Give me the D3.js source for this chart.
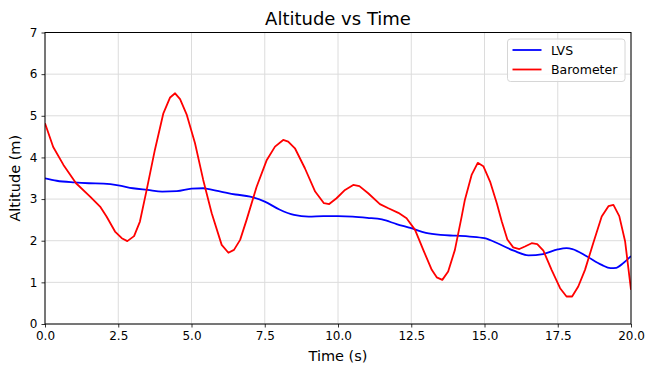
<!DOCTYPE html>
<html>
<head>
<meta charset="utf-8">
<script src="https://cdn.jsdelivr.net/npm/d3@7"></script>
<style>
    body { margin: 0; background: #fff; }
    svg text { font-family: "DejaVu Sans", sans-serif; fill: #000; }
</style>
</head>
<body>
<svg id="chart" width="645" height="366"></svg>
<script>
// LVS estimate (smooth)
const lvsTime = [0, 0.4, 1.0, 1.5, 2.0, 2.5, 3.0, 3.5, 4.0, 4.5, 5.0, 5.4, 5.5, 6.0, 6.5, 7.0, 7.5, 8.0, 8.5, 9.0,
    9.5, 10.0, 10.5, 11.0, 11.5, 12.0, 12.5, 13.0, 13.5, 14.0, 14.5, 15.0, 15.5, 16.0, 16.5, 17.0, 17.5, 17.8,
    18.0, 18.5, 19.0, 19.3, 19.5, 19.75, 20.0];
const lvsAlt = [3.50, 3.44, 3.40, 3.38, 3.37, 3.33, 3.26, 3.22, 3.18, 3.19, 3.25, 3.26, 3.25, 3.18, 3.11, 3.06, 2.94, 2.75, 2.62, 2.58,
    2.59, 2.59, 2.58, 2.55, 2.51, 2.40, 2.30, 2.19, 2.14, 2.12, 2.10, 2.06, 1.92, 1.76, 1.65, 1.68, 1.79, 1.82,
    1.80, 1.62, 1.42, 1.34, 1.35, 1.47, 1.63];

// barometer readings
const baroTime = [0.00, 0.28, 0.63, 1.06, 1.54, 1.88, 2.10, 2.39, 2.62, 2.81, 3.04, 3.24, 3.47, 3.75, 4.04, 4.27, 4.44, 4.61,
    4.84, 5.12, 5.40, 5.69, 6.03, 6.26, 6.45, 6.66, 6.88, 7.22, 7.57, 7.85, 8.13, 8.30, 8.53, 8.87, 9.22, 9.52, 9.70,
    9.95, 10.24, 10.52, 10.73, 11.03, 11.43, 11.72, 12.06, 12.34, 12.63, 12.91, 13.20, 13.37, 13.56, 13.76, 13.99,
    14.22, 14.33, 14.56, 14.77, 14.96, 15.19, 15.42, 15.59, 15.78, 15.98, 16.19, 16.38, 16.61, 16.80, 17.01, 17.29,
    17.58, 17.80, 17.99, 18.20, 18.43, 18.71, 19.00, 19.23, 19.40, 19.60, 19.80, 20.00];
const baroAlt = [4.82, 4.25, 3.82, 3.38, 3.06, 2.82, 2.58, 2.22, 2.06, 1.99, 2.11, 2.46, 3.22, 4.18, 5.06, 5.44, 5.54, 5.40,
    5.02, 4.34, 3.46, 2.66, 1.90, 1.71, 1.78, 2.02, 2.50, 3.29, 3.94, 4.26, 4.42, 4.38, 4.22, 3.74, 3.18, 2.90, 2.88,
    3.02, 3.22, 3.34, 3.31, 3.14, 2.88, 2.78, 2.67, 2.54, 2.26, 1.78, 1.30, 1.12, 1.06, 1.26, 1.78,
    2.58, 2.98, 3.58, 3.87, 3.79, 3.42, 2.90, 2.46, 2.03, 1.84, 1.80, 1.86, 1.94, 1.92, 1.76, 1.30,
    0.86, 0.66, 0.66, 0.90, 1.30, 1.94, 2.58, 2.83, 2.86, 2.59, 1.98, 0.82];

const xTicks = [0, 2.5, 5, 7.5, 10, 12.5, 15, 17.5, 20];
const yTicks = [0, 1, 2, 3, 4, 5, 6, 7];

const seriesNames = ["LVS", "Barometer"];
const seriesColors = ["#0000ff", "#ff0000"];

const svg = d3.select("#chart");
const plotLeft = 45, plotRight = 631, plotTop = 32.5, plotBottom = 324;

const xScale = d3.scaleLinear().domain([0, 20]).range([plotLeft, plotRight]);
const yScale = d3.scaleLinear().domain([0, 7]).range([plotBottom, plotTop]);

// grid
svg.append("g").selectAll("line")
    .data(xTicks).enter().append("line")
    .attr("x1", d => xScale(d)).attr("x2", d => xScale(d))
    .attr("y1", plotTop).attr("y2", plotBottom)
    .attr("stroke", "#dcdcdc").attr("stroke-width", 1);
svg.append("g").selectAll("line")
    .data(yTicks).enter().append("line")
    .attr("y1", d => yScale(d)).attr("y2", d => yScale(d))
    .attr("x1", plotLeft).attr("x2", plotRight)
    .attr("stroke", "#dcdcdc").attr("stroke-width", 1);

// lines
const plot = svg.append("g");
plot.append("clipPath").attr("id", "clip")
    .append("rect").attr("x", plotLeft).attr("y", plotTop)
    .attr("width", plotRight - plotLeft).attr("height", plotBottom - plotTop);

const lvsLine = d3.line()
    .curve(d3.curveMonotoneX)
    .x((d, i) => xScale(lvsTime[i]))
    .y(d => yScale(d));
const baroLine = d3.line()
    .x((d, i) => xScale(baroTime[i]))
    .y(d => yScale(d));

plot.append("path")
    .attr("clip-path", "url(#clip)")
    .attr("fill", "none").attr("stroke", seriesColors[0]).attr("stroke-width", 1.8)
    .attr("stroke-linejoin", "round")
    .attr("d", lvsLine(lvsAlt));
plot.append("path")
    .attr("clip-path", "url(#clip)")
    .attr("fill", "none").attr("stroke", seriesColors[1]).attr("stroke-width", 1.8)
    .attr("stroke-linejoin", "round")
    .attr("d", baroLine(baroAlt));

// axes
const xAxis = d3.axisBottom(xScale).tickValues(xTicks).tickFormat(d3.format(".1f"))
    .tickSizeInner(3.5).tickSizeOuter(0).tickPadding(4);
const gx = svg.append("g").attr("transform", `translate(0,${plotBottom})`).call(xAxis);
const yAxis = d3.axisLeft(yScale).tickValues(yTicks).tickFormat(d3.format("d"))
    .tickSizeInner(3.5).tickSizeOuter(0).tickPadding(4);
const gy = svg.append("g").attr("transform", `translate(${plotLeft},0)`).call(yAxis);
[gx, gy].forEach(g => {
    g.select(".domain").remove();
    g.selectAll(".tick line").attr("stroke", "#000").attr("stroke-width", 0.8);
    g.selectAll(".tick text").style("font-size", "12px").style("font-family", "DejaVu Sans");
});

// frame
svg.append("rect")
    .attr("x", plotLeft).attr("y", plotTop)
    .attr("width", plotRight - plotLeft).attr("height", plotBottom - plotTop)
    .attr("fill", "none").attr("stroke", "#000").attr("stroke-width", 1);

// title and labels
svg.append("text")
    .attr("x", (plotLeft + plotRight) / 2).attr("y", 25)
    .attr("text-anchor", "middle").style("font-size", "18px")
    .text("Altitude vs Time");
svg.append("text")
    .attr("x", (plotLeft + plotRight) / 2).attr("y", 361)
    .attr("text-anchor", "middle").style("font-size", "14.5px")
    .text("Time (s)");
svg.append("text")
    .attr("transform", `translate(20,${(plotTop + plotBottom) / 2}) rotate(-90)`)
    .attr("text-anchor", "middle").style("font-size", "14.5px")
    .text("Altitude (m)");

// legend
const legend = svg.append("g").attr("transform", "translate(507.5,39)");
legend.append("rect")
    .attr("width", 117.5).attr("height", 42.5).attr("rx", 3)
    .attr("fill", "#fff").attr("fill-opacity", 0.8)
    .attr("stroke", "#d6d6d6").attr("stroke-width", 1);
const lg = legend.selectAll(".item")
    .data(seriesNames).enter().append("g")
    .attr("transform", (d, i) => `translate(0,${11 + i * 19.5})`);
lg.append("line")
    .attr("x1", 5).attr("x2", 34).attr("y1", 0).attr("y2", 0)
    .attr("stroke", (d, i) => seriesColors[i]).attr("stroke-width", 1.8);
lg.append("text")
    .attr("x", 43.5).attr("y", 4.5)
    .style("font-size", "12.5px")
    .text(d => d);
</script>
</body>
</html>
